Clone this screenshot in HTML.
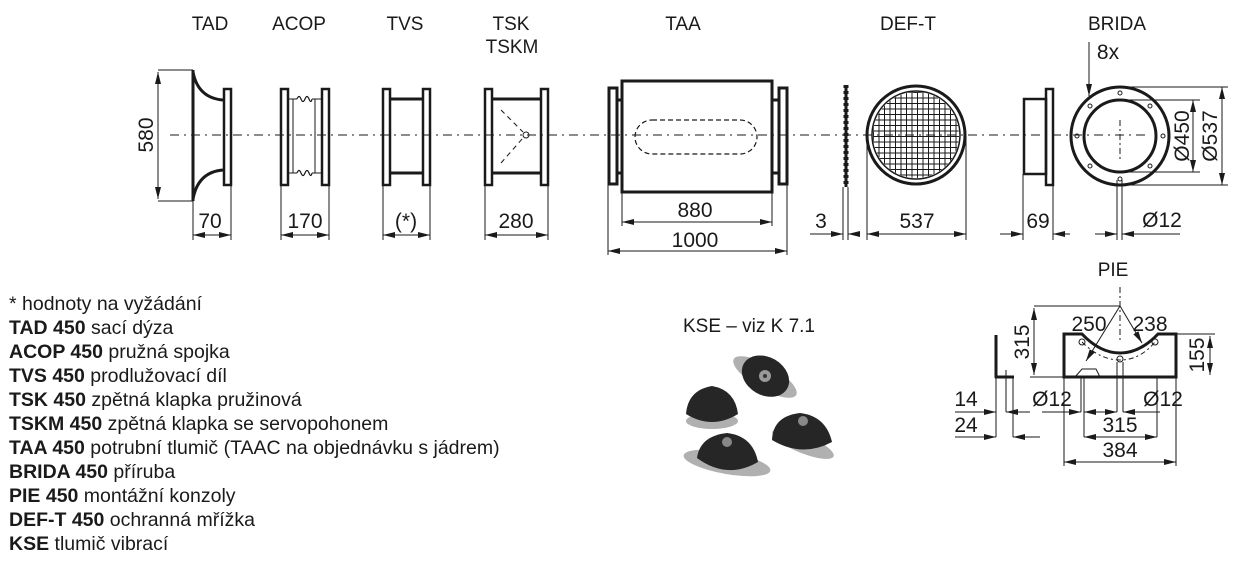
<!DOCTYPE html>
<html><head><meta charset="utf-8"><style>
html,body{margin:0;padding:0;background:#fff}
svg{display:block}
text{font-family:"Liberation Sans",Arial,sans-serif;fill:#1a1a1a}
.t{font-size:19px}
.d{font-size:21px}
.l{font-size:19.5px}
.b{font-weight:bold}
</style></head><body>
<svg width="1240" height="570" viewBox="0 0 1240 570" xmlns="http://www.w3.org/2000/svg">
<defs>
<marker id="a" viewBox="0 0 12 6" refX="12" refY="3" markerWidth="12" markerHeight="6" markerUnits="userSpaceOnUse" orient="auto-start-reverse"><path d="M0,0L12,3L0,6z" fill="#1a1a1a"/></marker>
<clipPath id="gc"><circle cx="916" cy="135" r="43"/></clipPath>
</defs>
<g stroke="#1a1a1a" fill="none">
<line x1="170" y1="135" x2="1150" y2="135" stroke-width="1" stroke-dasharray="9,5,2,5"/>

<!-- TAD -->
<line x1="158" y1="70" x2="193" y2="70" stroke-width="1"/>
<line x1="158" y1="201" x2="193" y2="201" stroke-width="1"/>
<line x1="158" y1="72" x2="158" y2="199" stroke-width="1" marker-start="url(#a)" marker-end="url(#a)"/>
<line x1="193" y1="70" x2="193" y2="201" stroke-width="3"/>
<path d="M193,72 Q198,98 223,100 M193,199 Q198,172 223,170" stroke-width="3"/>
<rect x="224" y="89" width="7" height="96" stroke-width="2.5"/>
<line x1="193" y1="201" x2="193" y2="240" stroke-width="1"/>
<line x1="231" y1="185" x2="231" y2="240" stroke-width="1"/>
<line x1="193" y1="235" x2="231" y2="235" stroke-width="1" marker-start="url(#a)" marker-end="url(#a)"/>

<!-- ACOP -->
<rect x="281" y="89" width="7" height="96" stroke-width="2.5"/>
<rect x="322" y="89" width="7" height="96" stroke-width="2.5"/>
<line x1="289" y1="99" x2="297" y2="99" stroke-width="1"/><line x1="312" y1="99" x2="321" y2="99" stroke-width="1"/>
<line x1="289" y1="173" x2="297" y2="173" stroke-width="1"/><line x1="312" y1="173" x2="321" y2="173" stroke-width="1"/>
<path d="M297,99 q2,-5 4,0 t4,0 t4,0 t3,0" stroke-width="1.2"/>
<path d="M297,173 q2,-5 4,0 t4,0 t4,0 t3,0" stroke-width="1.2"/>
<line x1="293" y1="99" x2="293" y2="173" stroke-width="1"/>
<line x1="315" y1="99" x2="315" y2="173" stroke-width="1"/>
<line x1="281" y1="185" x2="281" y2="240" stroke-width="1"/>
<line x1="329" y1="185" x2="329" y2="240" stroke-width="1"/>
<line x1="281" y1="235" x2="329" y2="235" stroke-width="1" marker-start="url(#a)" marker-end="url(#a)"/>

<!-- TVS -->
<rect x="383" y="89" width="7" height="96" stroke-width="2.5"/>
<rect x="423" y="89" width="7" height="96" stroke-width="2.5"/>
<line x1="390" y1="99" x2="423" y2="99" stroke-width="3"/>
<line x1="390" y1="173" x2="423" y2="173" stroke-width="3"/>
<line x1="383" y1="185" x2="383" y2="240" stroke-width="1"/>
<line x1="430" y1="185" x2="430" y2="240" stroke-width="1"/>
<line x1="383" y1="235" x2="430" y2="235" stroke-width="1" marker-start="url(#a)" marker-end="url(#a)"/>

<!-- TSK -->
<rect x="485" y="89" width="7" height="96" stroke-width="2.5"/>
<rect x="541" y="89" width="7" height="96" stroke-width="2.5"/>
<line x1="492" y1="99" x2="541" y2="99" stroke-width="3"/>
<line x1="492" y1="173" x2="541" y2="173" stroke-width="3"/>
<path d="M501,110 L523,132 M501,163 L523,138" stroke-width="1" stroke-dasharray="5,4"/>
<circle cx="526" cy="135" r="3" stroke-width="1"/>
<line x1="485" y1="185" x2="485" y2="240" stroke-width="1"/>
<line x1="548" y1="185" x2="548" y2="240" stroke-width="1"/>
<line x1="485" y1="235" x2="548" y2="235" stroke-width="1" marker-start="url(#a)" marker-end="url(#a)"/>

<!-- TAA -->
<rect x="609" y="88" width="8" height="96" stroke-width="3"/>
<rect x="779" y="88" width="8" height="96" stroke-width="3"/>
<rect x="622" y="81" width="150" height="111" stroke-width="3"/>
<path d="M617,100h5M617,173h5M772,100h7M772,173h7" stroke-width="3"/>
<rect x="635" y="120" width="122" height="34" rx="17" stroke-width="1.2" stroke-dasharray="5,3"/>
<line x1="622" y1="192" x2="622" y2="226" stroke-width="1"/>
<line x1="772" y1="192" x2="772" y2="226" stroke-width="1"/>
<line x1="622" y1="222" x2="772" y2="222" stroke-width="1" marker-start="url(#a)" marker-end="url(#a)"/>
<line x1="608" y1="184" x2="608" y2="255" stroke-width="1"/>
<line x1="787" y1="184" x2="787" y2="255" stroke-width="1"/>
<line x1="608" y1="251" x2="787" y2="251" stroke-width="1" marker-start="url(#a)" marker-end="url(#a)"/>

<!-- DEF-T -->
<line x1="846" y1="85" x2="846" y2="187" stroke-width="3" />
<line x1="846" y1="85" x2="846" y2="187" stroke-width="5" stroke-dasharray="3,3"/>
<line x1="843" y1="187" x2="843" y2="240" stroke-width="1"/>
<line x1="848" y1="187" x2="848" y2="240" stroke-width="1"/>
<line x1="810" y1="234" x2="843" y2="234" stroke-width="1" marker-end="url(#a)"/>
<line x1="860" y1="234" x2="848" y2="234" stroke-width="1" marker-end="url(#a)"/>
<circle cx="916" cy="135" r="49" stroke-width="3"/>
<circle cx="916" cy="135" r="44" stroke-width="1.5"/>
<g clip-path="url(#gc)" stroke-width="1">
<path d="M873.5,80v110M879,80v110M884.5,80v110M890,80v110M895.5,80v110M901,80v110M906.5,80v110M912,80v110M917.5,80v110M923,80v110M928.5,80v110M934,80v110M939.5,80v110M945,80v110M950.5,80v110M956,80v110M961.5,80v110
M860,92.5h120M860,98h120M860,103.5h120M860,109h120M860,114.5h120M860,120h120M860,125.5h120M860,131h120M860,136.5h120M860,142h120M860,147.5h120M860,153h120M860,158.5h120M860,164h120M860,169.5h120M860,175h120M860,180.5h120"/>
</g>
<line x1="867" y1="135" x2="867" y2="240" stroke-width="1"/>
<line x1="966" y1="135" x2="966" y2="240" stroke-width="1"/>
<line x1="867" y1="234" x2="966" y2="234" stroke-width="1" marker-start="url(#a)" marker-end="url(#a)"/>

<!-- BRIDA -->
<rect x="1024" y="99" width="22" height="75" stroke-width="2.5"/>
<rect x="1046" y="89" width="7" height="96" stroke-width="2.5"/>
<line x1="1023" y1="174" x2="1023" y2="240" stroke-width="1"/>
<line x1="1053" y1="185" x2="1053" y2="240" stroke-width="1"/>
<line x1="1000" y1="234" x2="1023" y2="234" stroke-width="1" marker-end="url(#a)"/>
<line x1="1070" y1="234" x2="1053" y2="234" stroke-width="1" marker-end="url(#a)"/>
<circle cx="1120" cy="136" r="49" stroke-width="3"/>
<circle cx="1120" cy="136" r="36" stroke-width="3"/>
<g stroke-width="1">
<circle cx="1120" cy="93" r="2"/><circle cx="1120" cy="179" r="2"/>
<circle cx="1077" cy="136" r="2"/><circle cx="1163" cy="136" r="2"/>
<circle cx="1090" cy="106" r="2"/><circle cx="1150" cy="106" r="2"/>
<circle cx="1090" cy="166" r="2"/><circle cx="1150" cy="166" r="2"/>
</g>
<line x1="1120" y1="120" x2="1120" y2="160" stroke-width="1" stroke-dasharray="6,3,2,3"/>
<line x1="1089" y1="42" x2="1089" y2="96" stroke-width="1" marker-end="url(#a)"/>
<line x1="1120" y1="100" x2="1200" y2="100" stroke-width="1"/>
<line x1="1120" y1="172" x2="1200" y2="172" stroke-width="1"/>
<line x1="1193" y1="100" x2="1193" y2="172" stroke-width="1" marker-start="url(#a)" marker-end="url(#a)"/>
<line x1="1120" y1="87" x2="1228" y2="87" stroke-width="1"/>
<line x1="1120" y1="185" x2="1228" y2="185" stroke-width="1"/>
<line x1="1222" y1="87" x2="1222" y2="185" stroke-width="1" marker-start="url(#a)" marker-end="url(#a)"/>
<line x1="1117" y1="180" x2="1117" y2="240" stroke-width="1"/>
<line x1="1122" y1="180" x2="1122" y2="240" stroke-width="1"/>
<line x1="1095" y1="234" x2="1117" y2="234" stroke-width="1" marker-end="url(#a)"/>
<line x1="1180" y1="234" x2="1122" y2="234" stroke-width="1" marker-end="url(#a)"/>

<!-- PIE -->
<line x1="1120" y1="287" x2="1120" y2="343" stroke-width="1" stroke-dasharray="6,3,2,3"/>
<path d="M1064,334 H1082 Q1100,353 1120,353 Q1140,353 1158,334 H1176 V377 H1064 Z" stroke-width="3"/>
<path d="M1082,342 Q1100,360 1120,360 Q1140,360 1155,342" stroke-width="1" stroke-dasharray="5,3,2,3"/>
<circle cx="1082" cy="342" r="3" stroke-width="1"/>
<circle cx="1120" cy="359" r="3" stroke-width="1"/>
<circle cx="1155" cy="342" r="3" stroke-width="1"/>
<path d="M1117,362V377M1123,362V377" stroke-width="1"/>
<path d="M1075,377L1082,369H1096L1100,377" stroke-width="1"/>
<line x1="1034" y1="306" x2="1120" y2="306" stroke-width="1"/>
<line x1="1034" y1="308" x2="1034" y2="375" stroke-width="1" marker-start="url(#a)" marker-end="url(#a)"/>
<line x1="1120" y1="306" x2="1086" y2="361" stroke-width="1" marker-end="url(#a)"/>
<line x1="1120" y1="306" x2="1142" y2="343" stroke-width="1" marker-end="url(#a)"/>
<line x1="1176" y1="334" x2="1215" y2="334" stroke-width="1"/>
<line x1="1210" y1="336" x2="1210" y2="375" stroke-width="1" marker-start="url(#a)" marker-end="url(#a)"/>
<line x1="1030" y1="377" x2="1064" y2="377" stroke-width="1"/>
<line x1="996" y1="335" x2="996" y2="378" stroke-width="3"/>
<line x1="995" y1="377" x2="1014" y2="377" stroke-width="3"/>
<path d="M996,377V437M1006,370V412M1013,377V437" stroke-width="1"/>
<line x1="955" y1="412" x2="996" y2="412" stroke-width="1" marker-end="url(#a)"/>
<line x1="1030" y1="412" x2="1006" y2="412" stroke-width="1" marker-end="url(#a)"/>
<line x1="955" y1="437" x2="996" y2="437" stroke-width="1" marker-end="url(#a)"/>
<line x1="1040" y1="437" x2="1013" y2="437" stroke-width="1" marker-end="url(#a)"/>
<path d="M1081,377V412M1084,377V437M1117,377V412M1123,377V412M1157,377V437M1064,377V466M1176,377V466" stroke-width="1"/>
<line x1="1042" y1="412" x2="1081" y2="412" stroke-width="1" marker-end="url(#a)"/>
<line x1="1084" y1="412" x2="1117" y2="412" stroke-width="1" marker-start="url(#a)" marker-end="url(#a)"/>
<line x1="1155" y1="412" x2="1123" y2="412" stroke-width="1" marker-end="url(#a)"/>
<line x1="1123" y1="412" x2="1160" y2="412" stroke-width="1"/>
<line x1="1084" y1="437" x2="1157" y2="437" stroke-width="1" marker-start="url(#a)" marker-end="url(#a)"/>
<line x1="1064" y1="462" x2="1176" y2="462" stroke-width="1" marker-start="url(#a)" marker-end="url(#a)"/>
</g>

<!-- KSE photo -->
<g>
<g transform="rotate(30 765 377)"><ellipse cx="765" cy="377" rx="36" ry="12" fill="#b0b0b0"/><ellipse cx="765" cy="376" rx="25" ry="19" fill="#262626"/></g>
<circle cx="765" cy="376" r="6" fill="#999"/><circle cx="765" cy="376" r="2" fill="#333"/>
<ellipse cx="712" cy="421" rx="26" ry="8" fill="#b0b0b0"/>
<path d="M686,414 Q688,390 712,386 Q735,390 738,414 Q712,430 686,414Z" fill="#262626"/>
<ellipse cx="727" cy="463" rx="44" ry="11" fill="#b0b0b0" transform="rotate(10 727 463)"/>
<path d="M697,458 Q700,436 727,433 Q753,436 758,462 Q727,480 697,458Z" fill="#262626"/>
<circle cx="727" cy="442" r="5" fill="#888"/>
<ellipse cx="803" cy="444" rx="33" ry="9" fill="#b0b0b0" transform="rotate(22 803 444)"/>
<path d="M772,440 Q773,416 800,413 Q826,416 832,442 Q802,458 772,440Z" fill="#262626"/>
<circle cx="803" cy="421" r="5" fill="#888"/>
</g>

<g class="t" text-anchor="middle">
<text x="210" y="30">TAD</text>
<text x="299" y="30">ACOP</text>
<text x="405" y="30">TVS</text>
<text x="511" y="30">TSK</text>
<text x="512" y="53">TSKM</text>
<text x="683" y="30">TAA</text>
<text x="908" y="30">DEF-T</text>
<text x="1117" y="30">BRIDA</text>
<text x="1113" y="276">PIE</text>
<text x="749" y="332">KSE – viz K 7.1</text>
</g>
<g class="d" text-anchor="middle">
<text x="210" y="228">70</text>
<text x="305" y="228">170</text>
<text x="406" y="228">(*)</text>
<text x="516" y="228">280</text>
<text x="695" y="217">880</text>
<text x="695" y="247">1000</text>
<text x="821" y="228">3</text>
<text x="917" y="228">537</text>
<text x="1038" y="228">69</text>
<text x="1162" y="227">Ø12</text>
<text x="1108" y="59">8x</text>
<text x="1089" y="331">250</text>
<text x="1150" y="331">238</text>
<text x="966" y="406">14</text>
<text x="966" y="432">24</text>
<text x="1052" y="406">Ø12</text>
<text x="1163" y="406">Ø12</text>
<text x="1120" y="432">315</text>
<text x="1120" y="457">384</text>
<text transform="translate(153,135) rotate(-90)">580</text>
<text transform="translate(1029,342) rotate(-90)">315</text>
<text transform="translate(1204,355) rotate(-90)">155</text>
<text transform="translate(1189,136) rotate(-90)">Ø450</text>
<text transform="translate(1217,136) rotate(-90)">Ø537</text>
</g>

<g class="l">
<text x="9" y="310">* hodnoty na vyžádání</text>
<text x="9" y="334"><tspan class="b">TAD 450</tspan>  sací dýza</text>
<text x="9" y="358"><tspan class="b">ACOP 450</tspan>  pružná spojka</text>
<text x="9" y="382"><tspan class="b">TVS 450</tspan>  prodlužovací díl</text>
<text x="9" y="406"><tspan class="b">TSK 450</tspan>   zpětná klapka pružinová</text>
<text x="9" y="430"><tspan class="b">TSKM 450</tspan>  zpětná klapka se servopohonem</text>
<text x="9" y="454"><tspan class="b">TAA 450</tspan>  potrubní tlumič (TAAC na objednávku s jádrem)</text>
<text x="9" y="478"><tspan class="b">BRIDA 450</tspan>  příruba</text>
<text x="9" y="502"><tspan class="b">PIE 450</tspan>  montážní konzoly</text>
<text x="9" y="526"><tspan class="b">DEF-T 450</tspan>  ochranná mřížka</text>
<text x="9" y="550"><tspan class="b">KSE</tspan>  tlumič vibrací</text>
</g>
</svg>
</body></html>
